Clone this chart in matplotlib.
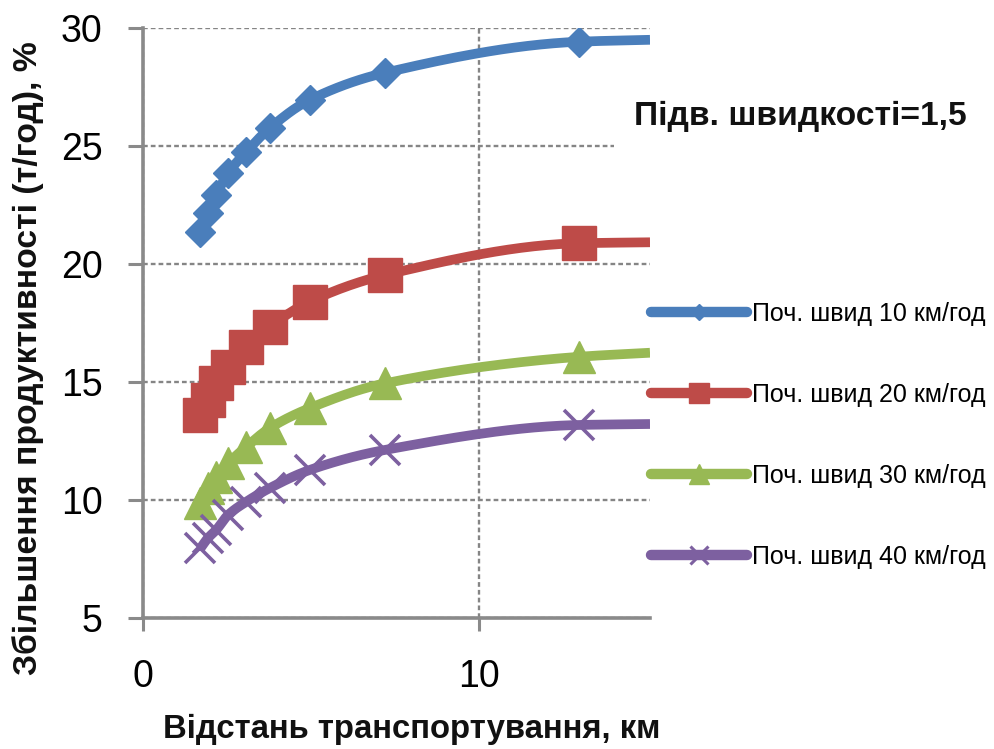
import numpy as np
import matplotlib
matplotlib.use("Agg")
import matplotlib.pyplot as plt
from matplotlib.lines import Line2D

# ---- data ----
distance_km = [1.71, 1.93, 2.18, 2.53, 3.08, 3.77, 4.96, 7.2, 13.0, 15.1]
speed_10 = [21.34, 22.15, 22.92, 23.84, 24.76, 25.75, 26.95, 28.1, 29.42, 29.5]
speed_20 = [13.6, 14.24, 14.94, 15.65, 16.5, 17.34, 18.4, 19.53, 20.88, 20.92]
speed_30 = [9.86, 10.5, 10.99, 11.55, 12.26, 13.04, 13.89, 14.94, 16.07, 16.24]
speed_40 = [7.95, 8.38, 8.73, 9.36, 9.93, 10.5, 11.27, 12.12, 13.18, 13.22]
series_labels = ["Поч. швид 10 км/год", "Поч. швид 20 км/год",
                 "Поч. швид 30 км/год", "Поч. швид 40 км/год"]
x_ticks = [0, 10]
y_ticks = [5, 10, 15, 20, 25, 30]
n_marked = 9  # the last point only continues the line to the axis edge

colors = ["#4A7EBB", "#BE4B48", "#98B954", "#7D60A0"]
markers = ["D", "s", "^", "x"]
marker_sizes = [15.5, 24, 23, 22]
legend_marker_sizes = [8, 15, 14, 13]


def pchip_line(x, y, n=30):
    """Monotone cubic smoothing of the line through the data points."""
    x = np.asarray(x, float)
    y = np.asarray(y, float)
    h = np.diff(x)
    delta = np.diff(y) / h
    d = np.zeros_like(y)
    for k in range(1, len(x) - 1):
        if delta[k - 1] * delta[k] > 0:
            w1 = 2 * h[k] + h[k - 1]
            w2 = h[k] + 2 * h[k - 1]
            d[k] = (w1 + w2) / (w1 / delta[k - 1] + w2 / delta[k])
    d[0] = delta[0]
    d[-1] = delta[-1]
    xs, ys = [], []
    for k in range(len(x) - 1):
        t = np.linspace(0, 1, n, endpoint=False)
        h00 = 2 * t**3 - 3 * t**2 + 1
        h10 = t**3 - 2 * t**2 + t
        h01 = -2 * t**3 + 3 * t**2
        h11 = t**3 - t**2
        xs.append(x[k] + t * h[k])
        ys.append(h00 * y[k] + h10 * h[k] * d[k] + h01 * y[k + 1] + h11 * h[k] * d[k + 1])
    xs.append([x[-1]])
    ys.append([y[-1]])
    return np.concatenate(xs), np.concatenate(ys)


FAM = ["Liberation Sans", "DejaVu Sans"]

fig = plt.figure(figsize=(9.95, 7.49), dpi=100)
ax = fig.add_axes([143 / 995, 1 - 618 / 749, (650 - 143) / 995, (618 - 28) / 749])

all_series = [speed_10, speed_20, speed_30, speed_40]
for vals, col, mk, ms in zip(all_series, colors, markers, marker_sizes):
    sx, sy = pchip_line(distance_km, vals)
    ax.plot(sx, sy, color=col, lw=7, solid_capstyle="butt", zorder=3)
    ax.plot(distance_km[:n_marked], vals[:n_marked], ls="none", marker=mk,
            ms=ms, color=col, mec=col, mew=2.6 if mk == "x" else 1, zorder=4)

ax.set_xlim(0, 15.1)
ax.set_ylim(5, 30)
ax.set_xticks(x_ticks)
ax.set_yticks(y_ticks)
ax.set_axisbelow(True)
ax.grid(True, color="#858585", lw=1.7, ls=(0, (2, 1.3)))
for s in ["top", "right"]:
    ax.spines[s].set_visible(False)
for s in ["left", "bottom"]:
    ax.spines[s].set_color("#8a8a8a")
    ax.spines[s].set_linewidth(2.6)
ax.tick_params(axis="y", direction="out", length=11, width=2.2, color="#8a8a8a",
               pad=18, labelsize=27)
ax.tick_params(axis="x", direction="out", length=9.5, width=2.2, color="#8a8a8a",
               pad=20, labelsize=27)
for lab in ax.get_xticklabels() + ax.get_yticklabels():
    lab.set_family(FAM)

fig.text(28 / 995, 1 - 358 / 749, "Збільшення продуктивності (т/год), %",
         rotation=90, ha="center", va="center", fontsize=24.3, fontweight="bold",
         family=FAM, color="#111111")
fig.text(412 / 995, 1 - 729 / 749, "Відстань транспортування, км",
         ha="center", va="center", fontsize=23.7, fontweight="bold",
         family=FAM, color="#111111")
fig.text(800 / 995, 1 - 116 / 749, "Підв. швидкості=1,5",
         ha="center", va="center", fontsize=24.2, fontweight="bold",
         family=FAM, color="#111111",
         bbox=dict(boxstyle="square,pad=0.6", fc="white", ec="none"), zorder=5)

handles = [Line2D([], [], color=c, lw=7.5, marker=m, ms=lm, mec=c,
                  mew=2.2 if m == "x" else 1, solid_capstyle="round")
           for c, m, lm in zip(colors, markers, legend_marker_sizes)]
fig.legend(handles, series_labels, loc="upper left",
           bbox_to_anchor=(651 / 995, 1 - 302 / 749), frameon=False,
           handlelength=3.85, handletextpad=0.2, labelspacing=2.28,
           borderpad=0, borderaxespad=0, numpoints=1,
           prop=dict(family=FAM, size=18))

fig.savefig("out.png", dpi=100)
